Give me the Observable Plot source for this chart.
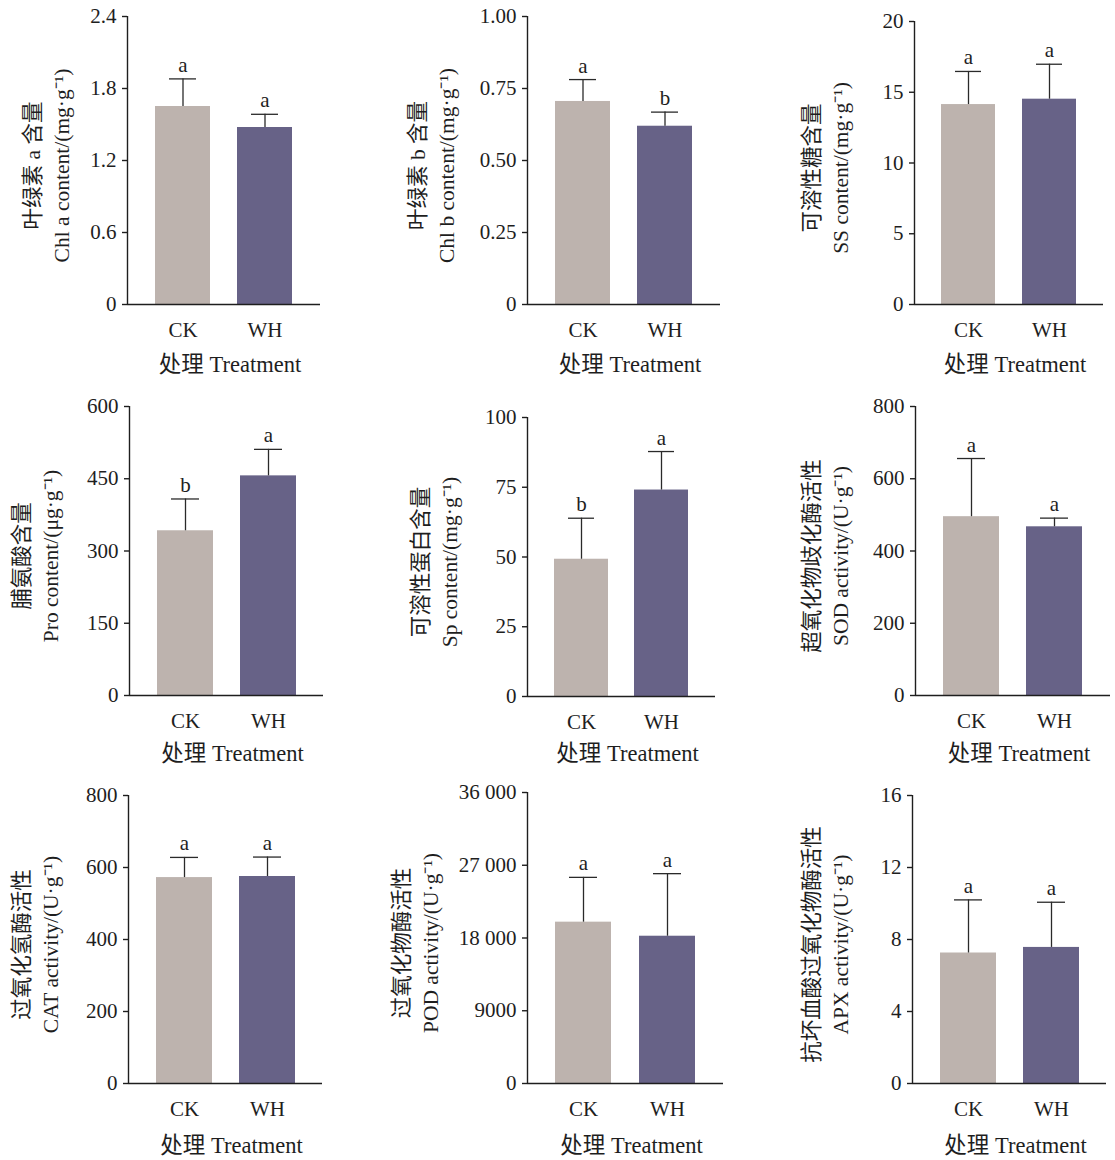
<!DOCTYPE html>
<html>
<head>
<meta charset="utf-8">
<script src="https://cdn.jsdelivr.net/npm/d3@7"></script>
<script src="https://cdn.jsdelivr.net/npm/@observablehq/plot@0.6"></script>
<style>
  html, body { margin: 0; padding: 0; background: #ffffff; }
  #fig { position: relative; width: 1115px; height: 1160px; background: #ffffff; overflow: hidden; }
  #fig svg { position: absolute; overflow: visible; }
</style>
</head>
<body>
<div id="fig"></div>
<script>
// ---------------- data ----------------
const categories = ["CK", "WH"];
const barColors = ["#bdb3ae", "#676287"];

// Chlorophyll a (mg·g-1)
const chlAMean = [1.65, 1.475];
const chlASd = [0.23, 0.11];
const chlALetters = ["a", "a"];
const chlATicks = [0, 0.6, 1.2, 1.8, 2.4];
const chlATickLabels = ["0", "0.6", "1.2", "1.8", "2.4"];

// Chlorophyll b (mg·g-1)
const chlBMean = [0.705, 0.619];
const chlBSd = [0.076, 0.049];
const chlBLetters = ["a", "b"];
const chlBTicks = [0, 0.25, 0.5, 0.75, 1.0];
const chlBTickLabels = ["0", "0.25", "0.50", "0.75", "1.00"];

// Soluble sugar (mg·g-1)
const ssMean = [14.13, 14.51];
const ssSd = [2.34, 2.47];
const ssLetters = ["a", "a"];
const ssTicks = [0, 5, 10, 15, 20];
const ssTickLabels = ["0", "5", "10", "15", "20"];

// Proline (μg·g-1)
const proMean = [342, 456];
const proSd = [66, 55];
const proLetters = ["b", "a"];
const proTicks = [0, 150, 300, 450, 600];
const proTickLabels = ["0", "150", "300", "450", "600"];

// Soluble protein (mg·g-1)
const spMean = [49.2, 74.0];
const spSd = [14.7, 13.8];
const spLetters = ["b", "a"];
const spTicks = [0, 25, 50, 75, 100];
const spTickLabels = ["0", "25", "50", "75", "100"];

// SOD activity (U·g-1)
const sodMean = [495, 467];
const sodSd = [161, 24];
const sodLetters = ["a", "a"];
const sodTicks = [0, 200, 400, 600, 800];
const sodTickLabels = ["0", "200", "400", "600", "800"];

// CAT activity (U·g-1)
const catMean = [572, 575];
const catSd = [56, 54];
const catLetters = ["a", "a"];
const catTicks = [0, 200, 400, 600, 800];
const catTickLabels = ["0", "200", "400", "600", "800"];

// POD activity (U·g-1)
const podMean = [19960, 18220];
const podSd = [5540, 7740];
const podLetters = ["a", "a"];
const podTicks = [0, 9000, 18000, 27000, 36000];
const podTickLabels = ["0", "9000", "18 000", "27 000", "36 000"];

// APX activity (U·g-1)
const apxMean = [7.25, 7.56];
const apxSd = [2.95, 2.51];
const apxLetters = ["a", "a"];
const apxTicks = [0, 4, 8, 12, 16];
const apxTickLabels = ["0", "4", "8", "12", "16"];

const xTitle = "处理 Treatment";

const panels = [
  {cn: "叶绿素 a 含量", en: "Chl a content/(mg·g⁻¹)", mean: chlAMean, sd: chlASd, letters: chlALetters, ticks: chlATicks, tickLabels: chlATickLabels},
  {cn: "叶绿素 b 含量", en: "Chl b content/(mg·g⁻¹)", mean: chlBMean, sd: chlBSd, letters: chlBLetters, ticks: chlBTicks, tickLabels: chlBTickLabels},
  {cn: "可溶性糖含量", en: "SS content/(mg·g⁻¹)", mean: ssMean, sd: ssSd, letters: ssLetters, ticks: ssTicks, tickLabels: ssTickLabels},
  {cn: "脯氨酸含量", en: "Pro content/(μg·g⁻¹)", mean: proMean, sd: proSd, letters: proLetters, ticks: proTicks, tickLabels: proTickLabels},
  {cn: "可溶性蛋白含量", en: "Sp content/(mg·g⁻¹)", mean: spMean, sd: spSd, letters: spLetters, ticks: spTicks, tickLabels: spTickLabels},
  {cn: "超氧化物歧化酶活性", en: "SOD activity/(U·g⁻¹)", mean: sodMean, sd: sodSd, letters: sodLetters, ticks: sodTicks, tickLabels: sodTickLabels},
  {cn: "过氧化氢酶活性", en: "CAT activity/(U·g⁻¹)", mean: catMean, sd: catSd, letters: catLetters, ticks: catTicks, tickLabels: catTickLabels},
  {cn: "过氧化物酶活性", en: "POD activity/(U·g⁻¹)", mean: podMean, sd: podSd, letters: podLetters, ticks: podTicks, tickLabels: podTickLabels},
  {cn: "抗坏血酸过氧化物酶活性", en: "APX activity/(U·g⁻¹)", mean: apxMean, sd: apxSd, letters: apxLetters, ticks: apxTicks, tickLabels: apxTickLabels}
];

// ---------------- layout (pixel placement of each panel frame) ----------------
const layout = [
  {ax: 127, top: 16, bottom: 304, right: 320, lab: 82, titleDy: 60},
  {ax: 527, top: 16, bottom: 304, right: 720, lab: 97, titleDy: 60},
  {ax: 914, top: 21, bottom: 304, right: 1103, lab: 90, titleDy: 60},
  {ax: 129, top: 406, bottom: 695, right: 323, lab: 95, titleDy: 58},
  {ax: 527, top: 417, bottom: 696, right: 715, lab: 94, titleDy: 57},
  {ax: 915, top: 406, bottom: 695, right: 1110, lab: 91, titleDy: 58},
  {ax: 128, top: 795, bottom: 1083, right: 322, lab: 94, titleDy: 62},
  {ax: 527, top: 792, bottom: 1083, right: 723, lab: 113, titleDy: 62},
  {ax: 912, top: 795, bottom: 1083, right: 1106, lab: 88, titleDy: 62}
];

const ML = 130, MT = 20, MR = 10, MB = 90;
const FONT = "'Liberation Serif', 'Times New Roman', 'Noto Sans CJK SC', serif";
const INK = "#1e1e1e";

const fig = document.getElementById("fig");

panels.forEach((p, k) => {
  const L = layout[k];
  const rows = categories.map((c, i) => ({cat: c, mean: p.mean[i], top: p.mean[i] + p.sd[i], letter: p.letters[i]}));
  const tickRows = p.ticks.map((t, i) => ({value: t, label: p.tickLabels[i]}));
  const yMax = p.ticks[p.ticks.length - 1];
  const frameW = L.right - L.ax;
  const frameH = L.bottom - L.top;
  const chart = Plot.plot({
    width: ML + frameW + MR,
    height: MT + frameH + MB,
    marginLeft: ML,
    marginRight: MR,
    marginTop: MT,
    marginBottom: MB,
    style: {fontFamily: FONT, fontSize: "21px", color: INK, background: "transparent", overflow: "visible"},
    x: {domain: categories, padding: 0.33, label: null, axis: null},
    y: {domain: [0, yMax], label: null, axis: null},
    color: {domain: categories, range: barColors},
    marks: [
      Plot.barY(rows, {x: "cat", y: "mean", fill: "cat"}),
      Plot.ruleX(rows, {x: "cat", y1: "mean", y2: "top", stroke: "#2a2a2a", strokeWidth: 1.3}),
      Plot.tickY(rows, {x: "cat", y: "top", insetLeft: 14, insetRight: 14, stroke: "#2a2a2a", strokeWidth: 1.3}),
      Plot.text(rows, {x: "cat", y: "top", text: "letter", dy: -7, lineAnchor: "bottom", fontSize: 21, fill: INK}),
      // y axis: line, outward ticks, labels
      Plot.ruleX([{y1: 0, y2: yMax}], {x: null, y1: "y1", y2: "y2", dx: -frameW / 2, stroke: INK, strokeWidth: 1.4}),
      Plot.axisY({ticks: p.ticks, tickFormat: () => "", tickSize: 5, tickPadding: 0, strokeWidth: 1.4, label: null}),
      Plot.text(tickRows, {y: "value", text: "label", frameAnchor: "left", dx: -11, textAnchor: "end", lineAnchor: "middle", fontSize: 21, fill: INK}),
      // x axis: baseline and category labels
      Plot.ruleY([0], {stroke: INK, strokeWidth: 1.4}),
      Plot.text(categories, {x: (d) => d, text: (d) => d, frameAnchor: "bottom", dy: 26, lineAnchor: "middle", fontSize: 21, fill: INK}),
      // axis titles
      Plot.text([p.cn + "\n" + p.en], {text: (d) => d, frameAnchor: "left", dx: -L.lab, dy: 5, rotate: -90, textAnchor: "middle", lineAnchor: "middle", lineHeight: 1.35, fontSize: 21.5, fill: INK}),
      Plot.text([xTitle], {text: (d) => d, frameAnchor: "bottom", dx: 6, dy: L.titleDy, lineAnchor: "middle", fontSize: 22.5, fill: INK})
    ]
  });
  chart.style.left = (L.ax - ML) + "px";
  chart.style.top = (L.top - MT) + "px";
  fig.appendChild(chart);
});
</script>
</body>
</html>
